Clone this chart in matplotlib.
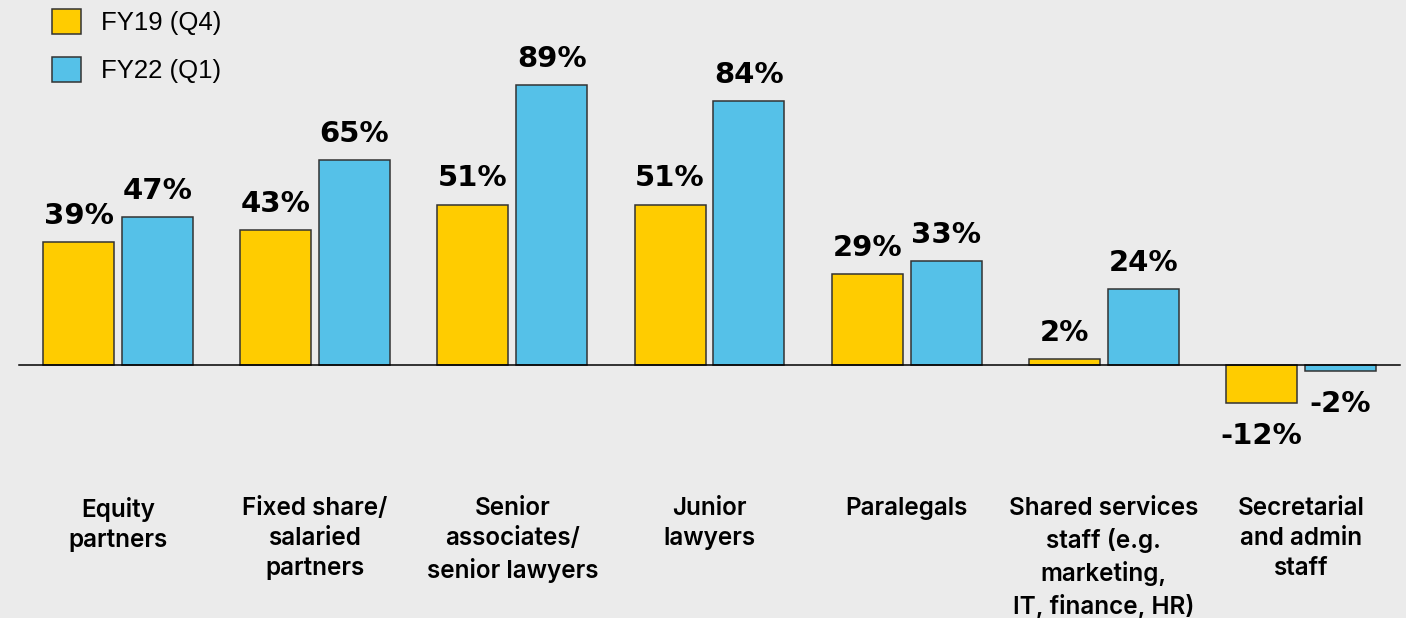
import matplotlib.pyplot as plt
import numpy as np

# headcount growth by role, two periods
categories = ["Equity\npartners", "Fixed share/\nsalaried\npartners",
              "Senior\nassociates/\nsenior lawyers", "Junior\nlawyers",
              "Paralegals", "Shared services\nstaff (e.g.\nmarketing,\nIT, finance, HR)",
              "Secretarial\nand admin\nstaff"]
fy19 = [39, 43, 51, 51, 29, 2, -12]
fy22 = [47, 65, 89, 84, 33, 24, -2]
series_names = ["FY19 (Q4)", "FY22 (Q1)"]

BG = "#ebebeb"
YELLOW = "#ffcc00"
BLUE = "#55c1e8"
EDGE = "#333333"

plt.rcParams['font.family'] = ['DejaVu Sans']

fig = plt.figure(figsize=(14.06, 6.18), dpi=100, facecolor=BG)
ax = fig.add_axes([0, 0, 1, 1])
ax.set_facecolor(BG)

x = np.arange(len(categories))
w = 0.36
b1 = ax.bar(x - 0.2, fy19, w, color=YELLOW, edgecolor=EDGE, linewidth=1.1, zorder=2)
b2 = ax.bar(x + 0.2, fy22, w, color=BLUE, edgecolor=EDGE, linewidth=1.1, zorder=2)

ax.set_xlim(-0.598, 6.532)
ax.set_ylim(-80.4, 116.0)
ax.axhline(0, xmin=19 / 1406, xmax=1400 / 1406, color="black", linewidth=1.1, zorder=3)

for bars, vals in ((b1, fy19), (b2, fy22)):
    for rect, v in zip(bars, vals):
        cx = rect.get_x() + rect.get_width() / 2
        if v >= 0:
            ax.annotate(f"{v}%", (cx, v), xytext=(0, 13), textcoords="offset points",
                        ha="center", va="baseline", fontsize=21, fontweight="bold")
        else:
            ax.annotate(f"{v}%", (cx, v), xytext=(0, -13.5), textcoords="offset points",
                        ha="center", va="top", fontsize=21, fontweight="bold")

for xi, lab in zip(x, categories):
    ax.text(xi, -41.8, lab, ha="center", va="top", fontsize=17.5,
            family=["Inter", "DejaVu Sans"], fontweight="semibold", linespacing=1.4)

ax.legend([b1, b2], series_names, loc="upper left",
          bbox_to_anchor=(52 / 1406, 1 - 9 / 618), bbox_transform=fig.transFigure,
          frameon=False, borderpad=0, borderaxespad=0,
          handlelength=1.12, handleheight=1.12, handletextpad=0.78, labelspacing=0.85,
          prop={"family": "Liberation Sans", "size": 18.5})

ax.axis("off")
fig.savefig("out.png", dpi=100, facecolor=BG)
